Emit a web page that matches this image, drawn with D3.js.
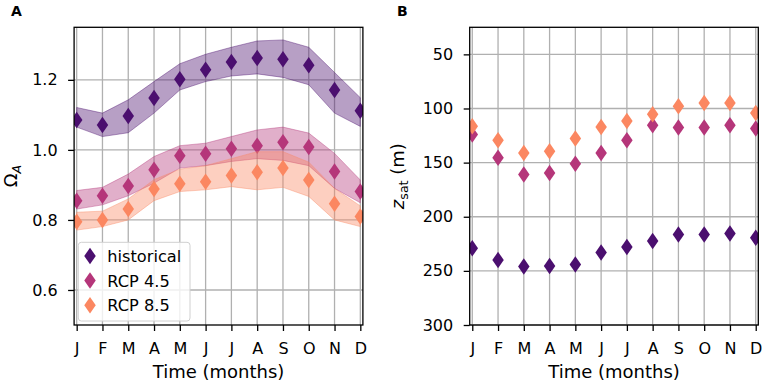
<!DOCTYPE html>
<html>
<head>
<meta charset="utf-8">
<script src="https://cdn.jsdelivr.net/npm/d3@7/dist/d3.min.js"></script>
<style>
  body { margin: 0; background: #fff; }
  svg { font-family: "DejaVu Sans", sans-serif; }
  .tick text { font-family: "DejaVu Sans", sans-serif; font-size: 16px; fill: #000; }
  .grid line { stroke: #b0b0b0; stroke-width: 1.3; }
</style>
</head>
<body>
<div id="chart"></div>
<script>
// * Data
var months = ["J", "F", "M", "A", "M", "J", "J", "A", "S", "O", "N", "D"];
var seriesNames = ["historical", "RCP 4.5", "RCP 8.5"];
var seriesColors = ["#4b0f6f", "#b5367a", "#fb8761"];

// panel A: saturation state (mean and spread)
var omegaHist = [1.085, 1.071, 1.097, 1.148, 1.202, 1.229, 1.251, 1.262, 1.259, 1.242, 1.171, 1.112];
var omegaHistHi = [1.121, 1.105, 1.143, 1.195, 1.246, 1.273, 1.293, 1.311, 1.314, 1.293, 1.221, 1.149];
var omegaHistLo = [1.065, 1.038, 1.049, 1.105, 1.171, 1.195, 1.211, 1.217, 1.207, 1.186, 1.105, 1.067];
var omega45 = [0.855, 0.869, 0.897, 0.943, 0.983, 0.989, 1.003, 1.012, 1.022, 1.008, 0.938, 0.881];
var omega45Hi = [0.884, 0.893, 0.931, 0.981, 1.012, 1.019, 1.038, 1.057, 1.065, 1.048, 0.99, 0.914];
var omega45Lo = [0.831, 0.843, 0.869, 0.905, 0.948, 0.955, 0.967, 0.975, 0.97, 0.955, 0.89, 0.849];
var omega85 = [0.795, 0.8, 0.831, 0.888, 0.903, 0.909, 0.927, 0.936, 0.948, 0.914, 0.846, 0.81];
var omega85Hi = [0.822, 0.825, 0.86, 0.915, 0.945, 0.955, 0.975, 0.995, 0.995, 0.965, 0.89, 0.84];
var omega85Lo = [0.771, 0.781, 0.8, 0.855, 0.881, 0.886, 0.895, 0.886, 0.893, 0.867, 0.8, 0.781];
var omegaTicks = [0.6, 0.8, 1.0, 1.2];

// panel B: saturation horizon depth (m)
var zHist = [229, 240, 246, 245.6, 244, 233, 228, 222.5, 216.3, 216.3, 215.4, 219.5];
var z45 = [124, 145.4, 161, 159.5, 151, 141, 129.3, 115.5, 117.6, 117.6, 115.5, 118.5];
var z85 = [116.4, 129.3, 141, 139.5, 127.8, 117, 111.5, 105.3, 98, 95, 95, 104.2];
var zTicks = [50, 100, 150, 200, 250, 300];

var width = 765, height = 384;
var top_ = 27.3, bottom = 325;

var svg = d3.select("#chart").append("svg")
  .attr("width", width)
  .attr("height", height);

// thin diamond ('d' marker), centred at 0,0
function diamond(w, h) {
  return "M0," + (-h / 2) + "L" + (w / 2) + ",0L0," + (h / 2) + "L" + (-w / 2) + ",0Z";
}
var mw = 11.5, mh = 16.5;

function drawPanel(opt) {
  var x = d3.scaleLinear().domain([-0.1, 11.1]).range([opt.left, opt.right]);
  var y = d3.scaleLinear().domain(opt.yDomain).range([bottom, top_]);

  var g = svg.append("g");
  var clipId = "clip" + opt.letter;
  svg.append("clipPath").attr("id", clipId)
    .append("rect")
    .attr("x", opt.left).attr("y", top_)
    .attr("width", opt.right - opt.left).attr("height", bottom - top_);

  // grid
  g.append("g").attr("class", "grid")
    .selectAll("line").data(d3.range(12)).enter().append("line")
    .attr("x1", function (d) { return x(d); }).attr("x2", function (d) { return x(d); })
    .attr("y1", top_).attr("y2", bottom);
  g.append("g").attr("class", "grid")
    .selectAll("line").data(opt.yTicks).enter().append("line")
    .attr("x1", opt.left).attr("x2", opt.right)
    .attr("y1", function (d) { return y(d); }).attr("y2", function (d) { return y(d); });

  var plot = g.append("g").attr("clip-path", "url(#" + clipId + ")");

  opt.series.forEach(function (s, i) {
    if (s.lo) {
      var area = d3.area()
        .x(function (d, j) { return x(j); })
        .y0(function (d, j) { return y(s.lo[j]); })
        .y1(function (d, j) { return y(s.hi[j]); });
      plot.append("path")
        .datum(s.values)
        .attr("d", area)
        .attr("fill", seriesColors[i])
        .attr("fill-opacity", 0.4)
        .attr("stroke", seriesColors[i])
        .attr("stroke-opacity", 0.4)
        .attr("stroke-width", 1);
    }
    plot.selectAll(".pt" + i).data(s.values).enter().append("path")
      .attr("class", "pt" + i)
      .attr("d", diamond(mw, mh))
      .attr("transform", function (d, j) { return "translate(" + x(j) + "," + y(d) + ")"; })
      .attr("fill", seriesColors[i]);
  });

  // axes
  var xAxis = d3.axisBottom(x).tickValues(d3.range(12))
    .tickFormat(function (d) { return months[d]; })
    .tickSize(6).tickPadding(11.5).tickSizeOuter(0);
  g.append("g")
    .attr("transform", "translate(0," + bottom + ")")
    .call(xAxis)
    .call(function (a) { a.select(".domain").remove(); });

  var yAxis = d3.axisLeft(y).tickValues(opt.yTicks)
    .tickFormat(opt.yFormat).tickSize(6).tickPadding(10.5).tickSizeOuter(0);
  g.append("g")
    .attr("transform", "translate(" + opt.left + ",0)")
    .call(yAxis)
    .call(function (a) { a.select(".domain").remove(); });

  g.selectAll(".tick line").attr("stroke", "#000").attr("stroke-width", 1.3);

  // frame
  g.append("rect")
    .attr("x", opt.left).attr("y", top_)
    .attr("width", opt.right - opt.left).attr("height", bottom - top_)
    .attr("fill", "none").attr("stroke", "#000").attr("stroke-width", 1.3);

  // labels
  g.append("text")
    .attr("x", (opt.left + opt.right) / 2).attr("y", 378)
    .attr("text-anchor", "middle").style("font-size", "18px")
    .text("Time (months)");

  g.append("text")
    .attr("x", opt.letterX).attr("y", 16)
    .style("font-size", "14px").style("font-weight", "bold")
    .text(opt.letter);

  var yl = g.append("text")
    .attr("transform", "translate(" + opt.yLabelX + "," + (top_ + bottom) / 2 + ") rotate(-90)")
    .attr("text-anchor", "middle").style("font-size", "18px");
  opt.yLabel(yl);

  return { x: x, y: y, g: g };
}

var pA = drawPanel({
  letter: "A", letterX: 11, left: 74.1, right: 362.9,
  yDomain: [0.5, 1.35], yTicks: omegaTicks, yFormat: d3.format(".1f"),
  yLabelX: 17,
  yLabel: function (t) {
    t.append("tspan").text("Ω");
    t.append("tspan").attr("dy", 4).style("font-size", "12.6px")
      .style("font-style", "italic").text("A");
  },
  series: [
    { values: omegaHist, lo: omegaHistLo, hi: omegaHistHi },
    { values: omega45, lo: omega45Lo, hi: omega45Hi },
    { values: omega85, lo: omega85Lo, hi: omega85Hi }
  ]
});

drawPanel({
  letter: "B", letterX: 397, left: 469.7, right: 758.3,
  yDomain: [300, 25], yTicks: zTicks, yFormat: d3.format("d"),
  yLabelX: 404,
  yLabel: function (t) {
    t.append("tspan").style("font-style", "italic").text("z");
    t.append("tspan").attr("dy", 4).style("font-size", "12.6px").text("sat");
    t.append("tspan").attr("dy", -4).text(" (m)");
  },
  series: [
    { values: zHist },
    { values: z45 },
    { values: z85 }
  ]
});

// * legend in panel A
var leg = pA.g.append("g");
leg.append("rect")
  .attr("x", 78.3).attr("y", 242.3).attr("width", 111.7).attr("height", 78.7)
  .attr("rx", 3).attr("fill", "#fff").attr("fill-opacity", 0.8)
  .attr("stroke", "#d0d0d0").attr("stroke-width", 1);
seriesNames.forEach(function (name, i) {
  var yy = 256 + i * 24.6;
  leg.append("path").attr("d", diamond(mw, mh))
    .attr("transform", "translate(90," + yy + ")")
    .attr("fill", seriesColors[i]);
  leg.append("text").attr("x", 107.3).attr("y", yy + 6)
    .style("font-size", "16.2px").text(name);
});
</script>
</body>
</html>
